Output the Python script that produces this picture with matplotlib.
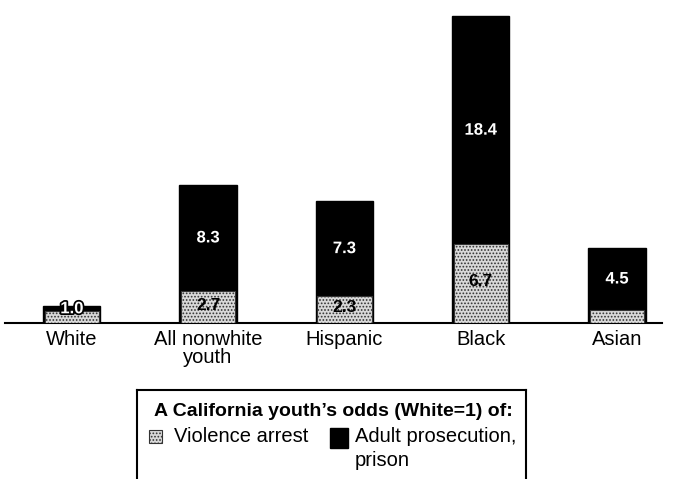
import numpy as np
import matplotlib.pyplot as plt
import matplotlib.patheffects as pe
from matplotlib.patches import Rectangle
from matplotlib.lines import Line2D

plt.rcParams['font.family'] = ['Liberation Sans', 'DejaVu Sans']
plt.rcParams['hatch.linewidth'] = 0.8

groups = ['White', 'All nonwhite\nyouth', 'Hispanic', 'Black', 'Asian']
adult_prison = [1.0, 8.3, 7.3, 18.4, 4.5]
violence_arrest = [1.0, 2.7, 2.3, 6.7, 1.1]
adult_labels = ['1.0', '8.3', '7.3', '18.4', '4.5']
violence_labels = ['', '2.7', '2.3', '6.7', '']

W, H = 677, 479
fig = plt.figure(figsize=(W / 100, H / 100), dpi=100)

def fx(px):
    return px / W

def fy(py):
    return 1 - py / H

speckle = dict(facecolor='#d9d9d9', edgecolor='#333333', hatch='.....', linewidth=0.8)

ax = fig.add_axes([fx(5), fy(323), fx(662) - fx(5), fy(13) - fy(323)])
ax2 = ax.twinx()
x = np.arange(len(groups))
bw = 0.42

ax.bar(x, adult_prison, bw, color='black', edgecolor='black', zorder=1)
ax2.bar(x, violence_arrest, bw * 0.95, **speckle)

ax.set_xlim(-0.49, 4.33)
ax.set_ylim(0, 18.6)
ax2.set_ylim(0, 26.3)
ratio = 18.6 / 26.3

for s in ['top', 'left', 'right']:
    ax.spines[s].set_visible(False)
for s in ax2.spines.values():
    s.set_visible(False)
ax.spines['bottom'].set_linewidth(1.5)
ax.set_yticks([])
ax2.set_yticks([])
ax.set_xticks(x)
ax.set_xticklabels(groups, fontsize=14.5)
ax.tick_params(axis='x', length=0, pad=5)
for tl in ax.get_xticklabels():
    tl.set_linespacing(0.95)

# value labels
outline = [pe.withStroke(linewidth=2.5, foreground='black')]
for i in range(len(groups)):
    y_black = (adult_prison[i] + violence_arrest[i] * ratio) / 2
    ax2.text(x[i], y_black / ratio, adult_labels[i], color='white', fontsize=12,
             fontweight='bold', ha='center', va='center', path_effects=outline)
    if violence_labels[i]:
        ax2.text(x[i], violence_arrest[i] / 2 + 0.15, violence_labels[i], color='black',
                 fontsize=12.5, fontweight='bold', ha='center', va='center')

# legend box
lw = 1.5
fig.add_artist(Line2D([fx(137), fx(526)], [fy(390), fy(390)], color='black', lw=lw))
fig.add_artist(Line2D([fx(137), fx(137)], [fy(390), 0], color='black', lw=lw))
fig.add_artist(Line2D([fx(526), fx(526)], [fy(390), 0], color='black', lw=lw))

fig.text(fx(333), fy(412), "A California youth\u2019s odds (White=1) of:", fontsize=14,
         fontweight='bold', ha='center', va='center')
fig.add_artist(Rectangle((fx(149), fy(443)), 13 / W, 13 / H, **speckle))
fig.text(fx(174), fy(437), 'Violence arrest', fontsize=14.5, ha='left', va='center')
fig.add_artist(Rectangle((fx(330), fy(448)), 18 / W, 20 / H, facecolor='black',
                         edgecolor='black'))
fig.text(fx(355), fy(437), 'Adult prosecution,', fontsize=14.5, ha='left', va='center')
fig.text(fx(355), fy(460), 'prison', fontsize=14.5, ha='left', va='center')

fig.savefig('out.png', dpi=100)
